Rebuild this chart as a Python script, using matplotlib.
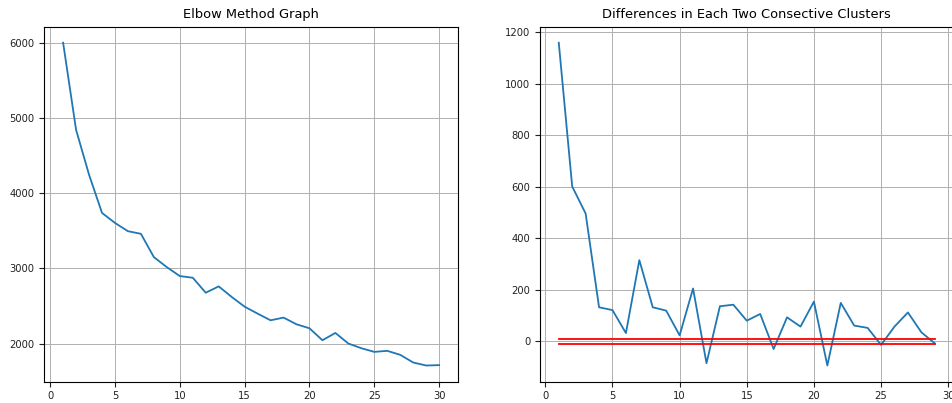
import matplotlib
matplotlib.use('Agg')
import matplotlib.pyplot as plt

# Elbow method: within-cluster sum of squares for k = 1..30
clusters = list(range(1, 31))
wcss = [6000, 4842, 4245, 3737, 3604, 3494, 3459, 3149, 3016, 2897,
        2875, 2676, 2760, 2620, 2490, 2398, 2309, 2345, 2256, 2203,
        2044, 2141, 2000, 1938, 1889, 1903, 1850, 1748, 1708, 1713]

# Differences between consecutive clusters (k = 1..29)
diff_x = list(range(1, 30))
diffs = [1159, 601, 496, 132, 121, 32, 315, 132, 119, 23,
         205, -85, 136, 142, 80, 106, -30, 93, 57, 154,
         -94, 149, 61, 52, -14, 57, 112, 35, -8]

# threshold band
band_levels = [10, -10]

fig = plt.figure(figsize=(9.53, 4.03), dpi=100)
ax1 = fig.add_axes([0.0465, 0.053, 0.434, 0.881])
ax2 = fig.add_axes([0.5666, 0.053, 0.434, 0.881])

ax1.plot(clusters, wcss, linewidth=1.3)
ax1.set_title('Elbow Method Graph', fontsize=9.4)
ax1.grid(True, linewidth=0.7)

ax2.plot(diff_x, diffs, linewidth=1.3)
for lvl in band_levels:
    ax2.plot([diff_x[0], diff_x[-1]], [lvl, lvl], color='red', linewidth=1.3)
ax2.set_title('Differences in Each Two Consective Clusters', fontsize=9.4)
ax2.grid(True, linewidth=0.7)

for ax in (ax1, ax2):
    ax.tick_params(labelsize=7.2, colors='#222222')

fig.savefig('out.png', dpi=100)
plt.close(fig)
